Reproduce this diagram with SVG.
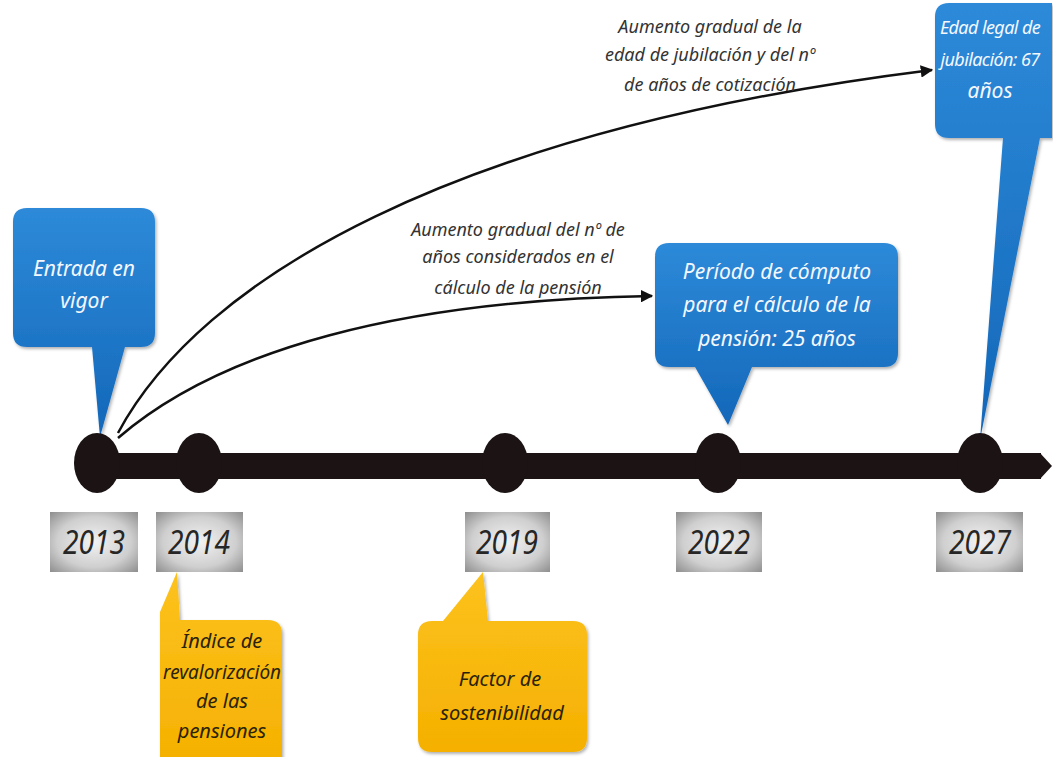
<svg xmlns="http://www.w3.org/2000/svg" width="1053" height="757" viewBox="0 0 1053 757">
<defs>
<style>
.t{font-family:"Noto Sans","Open Sans",sans-serif;font-style:italic;text-anchor:middle}
.w{fill:#f4f8ff;font-size:21px}
.w2{fill:#f4f8ff;font-size:18px;letter-spacing:-0.6px}
.y{fill:#2a2208;font-size:20px}
.lab{fill:#333;font-size:18px}
.yr{fill:#262626;font-size:32px}
.conn{fill:none;stroke:#111;stroke-width:2.5}
.dot{fill:#1c1414}
.sh{filter:url(#shadow)}
</style>
<filter id="shadow" x="-10%" y="-10%" width="130%" height="130%">
<feDropShadow dx="1.5" dy="2" stdDeviation="1.5" flood-color="#000" flood-opacity="0.3"/>
</filter>
<linearGradient id="blue" x1="0" y1="0" x2="0" y2="1">
<stop offset="0" stop-color="#2d8ad9"/>
<stop offset="1" stop-color="#1467b9"/>
</linearGradient>
<linearGradient id="gold" x1="0" y1="0" x2="0" y2="1">
<stop offset="0" stop-color="#fcc21e"/>
<stop offset="1" stop-color="#f5b000"/>
</linearGradient>
<radialGradient id="gray" cx="0.5" cy="0.5" r="0.7">
<stop offset="0" stop-color="#f2f2f2"/>
<stop offset="0.6" stop-color="#cfcfcf"/>
<stop offset="1" stop-color="#8f8f8f"/>
</radialGradient>
<marker id="ah" viewBox="0 0 10 10" refX="9" refY="5" markerWidth="5" markerHeight="5" orient="auto">
<path d="M0 0 L10 5 L0 10 Z" fill="#111"/>
</marker>
</defs>
<rect width="1053" height="757" fill="#fff"/>

<g id="timeline">
<rect x="95" y="453" width="946" height="26" fill="#1c1414"/>
<polygon points="1040,453 1052,466 1040,479" fill="#1c1414"/>
</g>

<g id="connectors">
<path class="conn" d="M118 433 C200 280 450 130 932 70" marker-end="url(#ah)"/>
<path class="conn" d="M118 438 C220 350 400 300 652 296" marker-end="url(#ah)"/>
<text class="t lab" x="710" y="33">Aumento gradual de la</text>
<text class="t lab" x="710" y="61">edad de jubilación y del nº</text>
<text class="t lab" x="710" y="91">de años de cotización</text>
<text class="t lab" x="518" y="236">Aumento gradual del nº de</text>
<text class="t lab" x="518" y="263">años considerados en el</text>
<text class="t lab" x="518" y="294">cálculo de la pensión</text>
</g>

<g id="n2013">
<path class="sh" d="M27 208 H141 Q155 208 155 222 V333 Q155 347 141 347 H125 L100 437 L92 347 H27 Q13 347 13 333 V222 Q13 208 27 208 Z" fill="url(#blue)"/>
<text class="t w" x="84" y="276">Entrada en</text>
<text class="t w" x="84" y="308">vigor</text>
<ellipse class="dot" cx="97" cy="463" rx="23" ry="30"/>
<rect x="50" y="512" width="88" height="60" fill="url(#gray)"/>
<text class="t yr" x="94" y="554" textLength="62" lengthAdjust="spacingAndGlyphs">2013</text>
</g>

<g id="n2014">
<ellipse class="dot" cx="199" cy="463" rx="23" ry="30"/>
<rect x="156" y="512" width="87" height="60" fill="url(#gray)"/>
<text class="t yr" x="199" y="554" textLength="62" lengthAdjust="spacingAndGlyphs">2014</text>
<path class="sh" d="M177 572 L180 620 H268 Q282 620 282 634 V770 H160 V612 Z" fill="url(#gold)"/>
<text class="t y" x="222" y="648">Índice de</text>
<text class="t y" x="222" y="679" textLength="118" lengthAdjust="spacingAndGlyphs">revalorización</text>
<text class="t y" x="222" y="708">de las</text>
<text class="t y" x="222" y="738">pensiones</text>
</g>

<g id="n2019">
<ellipse class="dot" cx="505" cy="463" rx="23" ry="30"/>
<rect x="465" y="512" width="85" height="60" fill="url(#gray)"/>
<text class="t yr" x="507" y="554" textLength="62" lengthAdjust="spacingAndGlyphs">2019</text>
<path class="sh" d="M483 572 L488 621 H573 Q587 621 587 635 V738 Q587 752 573 752 H432 Q418 752 418 738 V635 Q418 621 432 621 H443 Z" fill="url(#gold)"/>
<text class="t y" x="500" y="686">Factor de</text>
<text class="t y" x="502" y="720">sostenibilidad</text>
</g>

<g id="n2022">
<path class="sh" d="M669 243 H884 Q898 243 898 257 V353 Q898 367 884 367 H752 L728 425 L695 367 H669 Q655 367 655 353 V257 Q655 243 669 243 Z" fill="url(#blue)"/>
<text class="t w" x="777" y="279">Período de cómputo</text>
<text class="t w" x="777" y="312">para el cálculo de  la</text>
<text class="t w" x="777" y="346">pensión: 25 años</text>
<ellipse class="dot" cx="718" cy="463" rx="23" ry="30"/>
<rect x="676" y="512" width="86" height="60" fill="url(#gray)"/>
<text class="t yr" x="719" y="554" textLength="62" lengthAdjust="spacingAndGlyphs">2022</text>
</g>

<g id="n2027">
<path class="sh" d="M949 3 H1052 V138 H1040 L980 440 L1003 138 H949 Q935 138 935 124 V17 Q935 3 949 3 Z" fill="url(#blue)"/>
<text class="t w2" x="990" y="34">Edad legal de</text>
<text class="t w2" x="990" y="66">jubilación: 67</text>
<text class="t w" x="990" y="98" font-size="20">años</text>
<ellipse class="dot" cx="980" cy="463" rx="23" ry="30"/>
<rect x="936" y="512" width="87" height="60" fill="url(#gray)"/>
<text class="t yr" x="980" y="554" textLength="62" lengthAdjust="spacingAndGlyphs">2027</text>
</g>
</svg>
